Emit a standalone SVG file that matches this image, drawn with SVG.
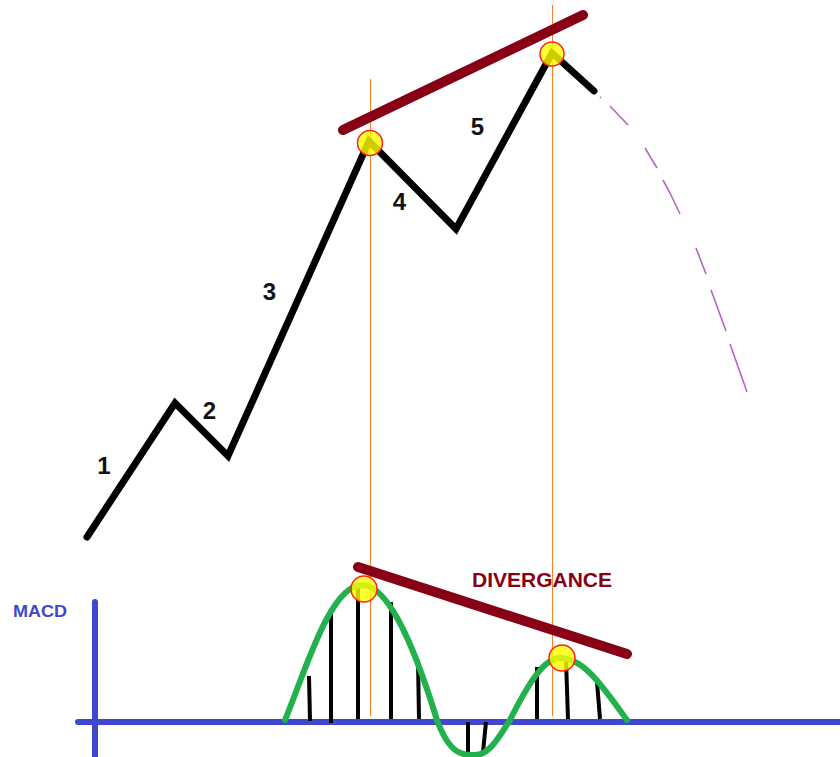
<svg xmlns="http://www.w3.org/2000/svg" width="840" height="757" viewBox="0 0 840 757">
<style>
.wave{fill:none;stroke:#000;stroke-width:7;stroke-linejoin:miter;stroke-linecap:round}
.trend{stroke:#880015;stroke-width:10;stroke-linecap:round}
.guide{stroke:#ff7f27;stroke-width:1}
.pt{fill:#ffff00;fill-opacity:0.8;stroke:#ff2020;stroke-width:1.5}
.lbl{font-family:"Liberation Sans",Arial,sans-serif;font-weight:bold;font-size:24px;fill:#111;text-anchor:middle}
.axis{stroke:#3f48cc;stroke-width:6;stroke-linecap:round}
.bar{stroke:#000;stroke-width:4}
.macd{fill:none;stroke:#22b14c;stroke-width:6;stroke-linecap:round}
</style>
<rect width="840" height="757" fill="#fff"/>
<g id="connectors">
<line class="guide" x1="370.5" y1="79" x2="370.5" y2="716"/>
<line class="guide" x1="552.5" y1="5" x2="552.5" y2="716"/>
<polyline class="wave" points="87,537 175,403 228,456 369,141 456,229 552,53 594,91"/>
<path d="M600,97 L601,98 M610,106 L628,125 M645,148 L657,168 M663,180 L670,193 L680,214 M696,248 L706,274 M711,290 L726,331 M730,344 L747,392" fill="none" stroke="#b564c4" stroke-width="1.6"/>
</g>
<g id="upper-trend"><line class="trend" x1="343" y1="130" x2="583" y2="15"/></g>
<g id="peak3"><circle class="pt" cx="370" cy="143" r="12.5"/></g>
<g id="peak5"><circle class="pt" cx="552" cy="54" r="12"/></g>
<g id="labels">
<text class="lbl" x="104" y="474">1</text>
<text class="lbl" x="209.5" y="419">2</text>
<text class="lbl" x="269.5" y="300">3</text>
<text class="lbl" x="399.5" y="210">4</text>
<text class="lbl" x="477.5" y="135">5</text>
</g>
<g id="macd-axis">
<line class="axis" x1="95" y1="602" x2="95" y2="757"/>
<line class="axis" x1="78" y1="722" x2="843" y2="722"/>
<text x="13" y="617" font-family="'Liberation Sans',Arial,sans-serif" font-weight="bold" font-size="17" fill="#3f48cc" textLength="54" lengthAdjust="spacingAndGlyphs">MACD</text>
</g>
<g id="histogram">
<line class="bar" x1="309" y1="676" x2="310" y2="721"/>
<line class="bar" x1="331" y1="612" x2="331" y2="723"/>
<line class="bar" x1="358" y1="586" x2="358" y2="719"/>
<line class="bar" x1="391" y1="602" x2="391" y2="719"/>
<line class="bar" x1="418" y1="660" x2="419" y2="719"/>
<line class="bar" x1="468" y1="722" x2="468" y2="752"/>
<line class="bar" x1="486" y1="722" x2="483" y2="752"/>
<line class="bar" x1="537" y1="667" x2="537" y2="719"/>
<line class="bar" x1="566" y1="660" x2="568" y2="719"/>
<line class="bar" x1="597" y1="682" x2="600" y2="719"/>
</g>
<g id="macd-curve">
<path class="macd" d="M285,720 C305,672 330,585 362,585 C392,585 420,665 437,720 C450,755 462,755 475,755 C490,755 500,735 510,720 C530,680 545,658 560,658 C585,658 605,690 627,720"/>
</g>
<g id="lower-trend"><line class="trend" x1="358" y1="567" x2="627" y2="654" stroke-width="9"/></g>
<g id="macd-peak1"><circle class="pt" cx="364" cy="589" r="13"/></g>
<g id="macd-peak2"><circle class="pt" cx="562" cy="658" r="13"/></g>
<g id="divergence-label">
<text x="472" y="587" font-family="'Liberation Sans',Arial,sans-serif" font-weight="bold" font-size="19.5" fill="#880015" textLength="140" lengthAdjust="spacingAndGlyphs">DIVERGANCE</text>
</g>
</svg>
